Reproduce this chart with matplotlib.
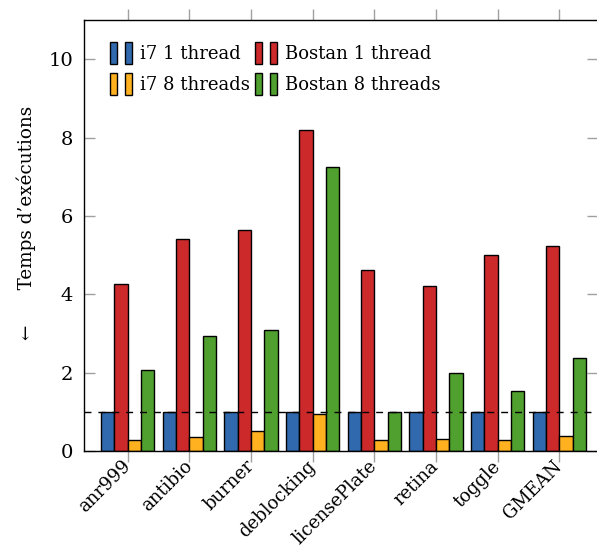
import numpy as np
import matplotlib
matplotlib.use("Agg")
import matplotlib.pyplot as plt
import matplotlib.transforms as mtransforms
from matplotlib.patches import Patch
from matplotlib.legend_handler import HandlerTuple

# ── Data ──────────────────────────────────────────────────────────────
categories   = ["anr999", "antibio", "burner", "deblocking",
                "licensePlate", "retina", "toggle", "GMEAN"]
i7_1         = [1, 1, 1, 1, 1, 1, 1, 1]
bostan_1     = [4.27, 5.40, 5.63, 8.18, 4.63, 4.22, 4.99, 5.22]
i7_8         = [0.27, 0.35, 0.52, 0.94, 0.27, 0.31, 0.27, 0.38]
bostan_8     = [2.07, 2.94, 3.09, 7.26, 0.99, 1.98, 1.53, 2.38]
series_names = ["i7 1 thread", "Bostan 1 thread", "i7 8 threads", "Bostan 8 threads"]
colors       = ["#3069ad", "#cc292b", "#ffb120", "#4fa02e"]

plt.rcParams["font.family"] = "DejaVu Serif"
plt.rcParams["font.size"] = 13

fig = plt.figure(figsize=(5.97, 5.51), dpi=100)
ax = fig.add_axes([84/597, 100/551, 514/597, 431/551])

x = np.arange(len(categories))
w = 0.217
series = [i7_1, bostan_1, i7_8, bostan_8]
for k, (vals, c) in enumerate(zip(series, colors)):
    ax.bar(x + (k - 1.5) * w, vals, width=w, color=c,
           edgecolor="black", linewidth=1.0, zorder=2)

ax.axhline(1, color="black", linestyle=(0, (5, 5)), linewidth=1.0, zorder=3)

ax.set_xlim(-0.709, 7.627)
ax.set_ylim(0, 11)
ax.set_yticks([0, 2, 4, 6, 8, 10])
ax.set_xticks(x)
ax.set_xticklabels(categories, rotation=45, ha="right",
                   rotation_mode="anchor", va="center", fontsize=13)
shift = mtransforms.ScaledTranslation(6/72, 0, fig.dpi_scale_trans)
for lbl in ax.get_xticklabels():
    lbl.set_transform(lbl.get_transform() + shift)

ax.tick_params(axis="y", direction="in", left=True, right=True,
               length=8, width=1, color="#a0a0a0", pad=8, labelsize=14)
ax.tick_params(axis="x", direction="out", bottom=True, top=True,
               length=8, width=1, color="#a0a0a0", pad=1)
for s in ax.spines.values():
    s.set_linewidth(1.0)

ax.set_ylabel("←      Temps d’exécutions", fontsize=13.2)
ax.yaxis.set_label_coords(-0.093, 0.53)

# legend with the two-bar icons (column-major order -> rows as in reference)
order = [0, 2, 1, 3]
handles = [(Patch(facecolor=colors[i], edgecolor="black", linewidth=1.0),
            Patch(facecolor=colors[i], edgecolor="black", linewidth=1.0)) for i in order]
labels = [series_names[i] for i in order]
ax.legend(handles, labels, ncol=2, frameon=False,
          handler_map={tuple: HandlerTuple(ndivide=None, pad=0.46)},
          handlelength=1.24, handleheight=1.5, handletextpad=0.4,
          columnspacing=0.3, labelspacing=0.5, borderpad=0,
          fontsize=13,
          loc="upper left", bbox_to_anchor=(17/514, 418/431))

fig.savefig("out.png", dpi=100)
